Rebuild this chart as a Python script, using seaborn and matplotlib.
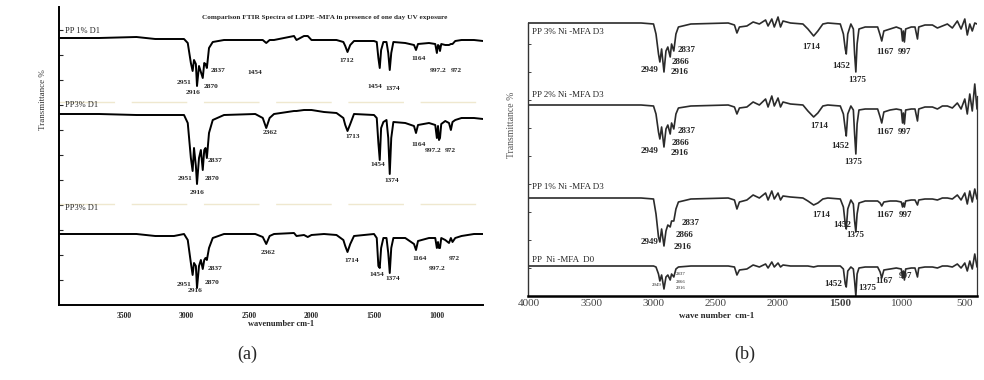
import numpy as np
import pandas as pd
import matplotlib
matplotlib.use("Agg")
import matplotlib.pyplot as plt
import seaborn as sns

# ---------------- data: panel (a) ----------------
wn_a = [4020, 3700, 3400, 3250, 3100, 3020, 2990, 2965, 2951, 2940, 2925, 2916, 2900, 2885,
        2870, 2858, 2848, 2837, 2820, 2790, 2700, 2450, 2390, 2362, 2335, 2300, 2140, 2120,
        2060, 2030, 2000, 1900, 1800, 1745, 1730, 1712, 1690, 1660, 1500, 1478, 1465, 1454,
        1443, 1425, 1400, 1386, 1374, 1362, 1345, 1250, 1180, 1164, 1148, 1060, 1010, 997,
        988, 980, 972, 962, 930, 900, 885, 872, 850, 800, 700, 628]
t_pp1_d1 = [267, 267, 268, 266, 266, 266, 262, 242, 234, 245, 241, 219, 239, 233, 227, 242, 241,
            237, 257, 263, 265, 265, 265, 262, 265, 265, 269, 265, 269, 269, 265, 265, 265, 263,
            259, 253, 260, 264, 264, 263, 247, 237, 255, 263, 263, 252, 235, 252, 263, 262, 260,
            255, 261, 262, 261, 252, 260, 259, 254, 261, 260, 260, 261, 261, 264, 265, 265, 264]
t_pp3_d1 = [191, 191, 190, 190, 190, 190, 182, 147, 134, 157, 139, 121, 147, 155, 135, 155, 157,
            147, 172, 185, 190, 191, 187, 177, 187, 191, 194, 194, 195, 195, 195, 193, 192, 187,
            180, 174, 181, 191, 190, 187, 162, 145, 177, 183, 185, 167, 131, 167, 183, 182, 179,
            172, 180, 182, 180, 167, 179, 165, 167, 181, 184, 182, 175, 183, 185, 187, 187, 186]
t_pp3_d1b = [71, 71, 71, 69, 69, 71, 65, 42, 30, 42, 39, 17, 39, 45, 36, 45, 47, 45, 57, 67, 71,
             71, 68, 61, 69, 71, 72, 69, 70, 68, 70, 71, 70, 65, 59, 53, 61, 69, 71, 67, 39, 37,
             57, 67, 67, 52, 32, 57, 67, 67, 61, 55, 64, 67, 67, 57, 63, 57, 57, 67, 65, 62, 67,
             63, 67, 69, 71, 71]
series_a = ["PP 1% D1", "PP3% D1", "PP3% D1"]
ticks_a = [3500, 3000, 2500, 2000, 1500, 1000]

# ---------------- data: panel (b) ----------------
wn_b = [4008, 3500, 3100, 3000, 2980, 2960, 2949, 2935, 2916, 2900, 2885, 2866, 2855, 2837,
        2820, 2800, 2700, 2400, 2350, 2330, 2310, 2250, 2200, 2150, 2100, 2080, 2050, 2030,
        2000, 1980, 1960, 1900, 1800, 1760, 1714, 1680, 1640, 1600, 1500, 1475, 1460, 1452,
        1440, 1415, 1395, 1385, 1375, 1365, 1350, 1300, 1200, 1180, 1167, 1150, 1100, 1050,
        1010, 1000, 993, 985, 975, 930, 900, 880, 870, 820, 760, 720, 680, 640, 600, 560,
        530, 500, 480, 460, 440, 420, 402]
t_ni3_d3 = [273, 273, 273, 272, 262, 242, 234, 247, 224, 245, 249, 239, 252, 245, 262, 269, 272,
            273, 271, 263, 269, 270, 274, 272, 276, 270, 277, 269, 279, 269, 275, 273, 272, 267,
            260, 265, 272, 273, 272, 262, 247, 242, 262, 272, 267, 242, 224, 252, 267, 269, 269,
            261, 255, 265, 267, 269, 267, 255, 265, 254, 267, 269, 269, 257, 269, 271, 271, 268,
            270, 272, 268, 275, 267, 277, 261, 272, 265, 273, 272]
t_ni2_d3 = [191, 191, 191, 190, 182, 164, 157, 169, 149, 167, 171, 162, 173, 167, 182, 188, 190,
            191, 189, 182, 188, 189, 194, 191, 197, 189, 200, 190, 198, 189, 194, 192, 191, 185,
            179, 183, 190, 191, 190, 182, 167, 160, 182, 190, 186, 162, 142, 172, 186, 187, 187,
            179, 173, 184, 186, 187, 186, 173, 183, 172, 186, 187, 187, 175, 187, 189, 189, 187,
            190, 190, 188, 193, 187, 197, 182, 202, 185, 212, 187]
t_ni1_d3 = [98, 98, 98, 97, 82, 59, 54, 67, 50, 65, 71, 69, 75, 75, 87, 94, 97, 98, 96, 87, 94,
            96, 101, 98, 103, 96, 105, 97, 103, 96, 100, 99, 98, 95, 91, 93, 97, 98, 97, 89, 72,
            67, 87, 96, 92, 75, 64, 82, 93, 95, 95, 93, 90, 94, 95, 95, 94, 89, 93, 89, 95, 96,
            96, 91, 96, 97, 97, 96, 98, 98, 97, 101, 96, 103, 92, 105, 94, 107, 97]
t_ni_d0 = [30, 30, 30, 30, 29, 22, 15, 21, 7, 19, 21, 16, 22, 19, 27, 29, 30, 30, 29, 21, 26, 27,
           31, 29, 32, 28, 34, 29, 33, 29, 31, 30, 30, 30, 29, 30, 30, 30, 30, 27, 12, 9, 25, 29,
           27, 15, 0, 22, 28, 29, 29, 24, 18, 26, 27, 28, 27, 18, 25, 16, 27, 28, 28, 19, 28, 29,
           29, 28, 30, 30, 29, 32, 28, 33, 25, 35, 27, 42, 29]
series_b = ["PP 3% Ni -MFA D3", "PP 2% Ni -MFA D3", "PP 1% Ni -MFA D3", "PP  Ni -MFA  D0"]
ticks_b = [4000, 3500, 3000, 2500, 2000, 1500, 1000, 500]

# ---------------- peak labels (text, x in cm-1, y) ----------------
peaks_a = [
    ("2951", 3020, 222), ("2916", 2948, 213), ("2870", 2804, 218), ("2837", 2748, 235),
    ("1454", 2452, 232), ("1712", 1716, 244), ("1454", 1492, 219), ("1374", 1348, 216),
    ("1164", 1140, 247), ("997.2", 988, 235), ("972", 844, 235),
    ("2362", 2332, 173), ("1713", 1668, 168), ("2837", 2772, 145), ("2951", 3012, 127),
    ("2870", 2796, 127), ("2916", 2916, 113), ("1454", 1468, 140), ("1374", 1356, 125),
    ("1164", 1140, 160), ("997.2", 1028, 154), ("972", 892, 155),
    ("2362", 2348, 53), ("1714", 1676, 45), ("2837", 2772, 37), ("2951", 3020, 20),
    ("2870", 2796, 22), ("2916", 2932, 14), ("1454", 1476, 31), ("1374", 1348, 26),
    ("1164", 1132, 46), ("997.2", 996, 36), ("972", 860, 46),
]
peaks_b = [
    ("2837", 2731, 246), ("2866", 2787, 234), ("2949", 3028, 226), ("2916", 2787, 224),
    ("1714", 1735, 249), ("1452", 1494, 230), ("1375", 1366, 216), ("1167", 1141, 244),
    ("997", 988, 244),
    ("2837", 2731, 165), ("2866", 2787, 153), ("2949", 3028, 145), ("2916", 2787, 143),
    ("1714", 1671, 170), ("1452", 1502, 150), ("1375", 1398, 134), ("1167", 1141, 164),
    ("997", 988, 164),
    ("2837", 2699, 73), ("2866", 2755, 61), ("2949", 3028, 54), ("2916", 2770, 49),
    ("1714", 1655, 81), ("1452", 1486, 71), ("1375", 1382, 61), ("1167", 1141, 81),
    ("997", 980, 81),
]
peaks_b_small = [("2837", 2779, 22), ("2866", 2779, 14), ("2949", 2972, 11), ("2916", 2779, 8)]
peaks_b_d0 = [("1452", 1559, 12), ("1375", 1285, 8), ("1167", 1149, 15), ("997", 980, 20)]

# ---------------- style ----------------
sns.set_style("white")
plt.rcParams["font.family"] = ["Liberation Serif", "DejaVu Serif"]

fig = plt.figure(figsize=(9.84, 3.8), dpi=100)
W, H = 984, 380
axA = fig.add_axes([59 / W, 1 - 305 / H, 424 / W, 298 / H])
axB = fig.add_axes([528 / W, 1 - 296 / H, 449 / W, 281 / H])

# ---------------- panel (a) ----------------
for vals in [t_pp1_d1, t_pp3_d1, t_pp3_d1b]:
    df = pd.DataFrame({"wn": wn_a, "T": vals})
    sns.lineplot(data=df, x="wn", y="T", ax=axA, color="black", lw=1.4,
                 estimator=None, sort=False)
axA.set_xlim(4020, 628)
axA.set_ylim(0, 298)
for yv in [203, 101]:
    axA.axhline(yv, color="#efe8cf", lw=1.0, dashes=(40, 12))
for (txt, yv) in zip(series_a, [274, 200, 97]):
    axA.text(3975, yv, txt, fontsize=6, ha="left", va="center")
for txt, x, y in peaks_a:
    axA.text(x, y, txt, fontsize=5.3, fontweight="bold", ha="center", va="center")
axA.text(1892, 288, "Comparison FTIR Spectra of LDPE -MFA in presence of one day UV exposure",
         fontsize=5.2, fontweight="bold", ha="center", va="center")
axA.set_xticks(ticks_a)
axA.set_xticklabels([str(t) for t in ticks_a], fontsize=5.5, fontweight="bold")
axA.set_yticks(np.arange(25, 298, 25))
axA.tick_params(axis="x", length=0, pad=5)
axA.tick_params(axis="y", direction="in", length=3, width=0.8, labelleft=False, left=True)
axA.set_xlabel("")
axA.set_ylabel("")
for s in ["top", "right"]:
    axA.spines[s].set_visible(False)
for s in ["left", "bottom"]:
    axA.spines[s].set_linewidth(1.4)
    axA.spines[s].set_color("black")
fig.text(281 / W, 1 - 324 / H, "wavenumber cm-1", fontsize=6, fontweight="bold",
         ha="center", va="center")
fig.text(43 / W, 1 - 100 / H, "Transmittance %", fontsize=6.5, rotation=90,
         ha="center", va="center", color="#333333")

# ---------------- panel (b) ----------------
for vals in [t_ni3_d3, t_ni2_d3, t_ni1_d3, t_ni_d0]:
    df = pd.DataFrame({"wn": wn_b, "T": vals})
    sns.lineplot(data=df, x="wn", y="T", ax=axB, color="#2b2b2b", lw=1.2,
                 estimator=None, sort=False)
axB.set_xlim(4008, 402)
axB.set_ylim(0, 281)
for (txt, yv) in zip(series_b, [264, 201, 109, 36]):
    axB.text(3976, yv, txt, fontsize=6.5, ha="left", va="center")
for txt, x, y in peaks_b + peaks_b_d0:
    axB.text(x, y, txt, fontsize=6.5, fontweight="bold", ha="center", va="center")
for txt, x, y in peaks_b_small:
    axB.text(x, y, txt, fontsize=3.5, ha="center", va="center")
axB.set_xticks(ticks_b)
axB.set_xticklabels([str(t) for t in ticks_b], fontsize=8, color="#444444")
for lbl in axB.get_xticklabels():
    if lbl.get_text() == "1500":
        lbl.set_fontweight("bold")
axB.set_yticks(np.arange(28, 270, 28))
axB.tick_params(axis="x", length=0, pad=2)
axB.tick_params(axis="y", direction="in", length=2, width=0.6, labelleft=False, left=True)
axB.set_xlabel("")
axB.set_ylabel("")
axB.spines["top"].set_visible(False)
axB.spines["left"].set_linewidth(1.0)
axB.spines["left"].set_color("#333333")
axB.spines["left"].set_bounds(0, 273)
axB.spines["bottom"].set_linewidth(1.8)
axB.spines["bottom"].set_color("black")
axB.spines["right"].set_linewidth(0.9)
axB.spines["right"].set_color("#333333")
axB.spines["right"].set_bounds(0, 200)
fig.text(717 / W, 1 - 316 / H, "wave number  cm-1", fontsize=6.5, fontweight="bold",
         ha="center", va="center")
fig.text(512 / W, 1 - 125 / H, "Transmittance %", fontsize=7, rotation=90,
         ha="center", va="center", color="#555555")

# ---------------- captions ----------------
fig.text(247 / W, 1 - 354 / H, "(a)", fontsize=13, ha="center", va="center")
fig.text(745 / W, 1 - 354 / H, "(b)", fontsize=13, ha="center", va="center")

fig.savefig("out.png", dpi=100)
